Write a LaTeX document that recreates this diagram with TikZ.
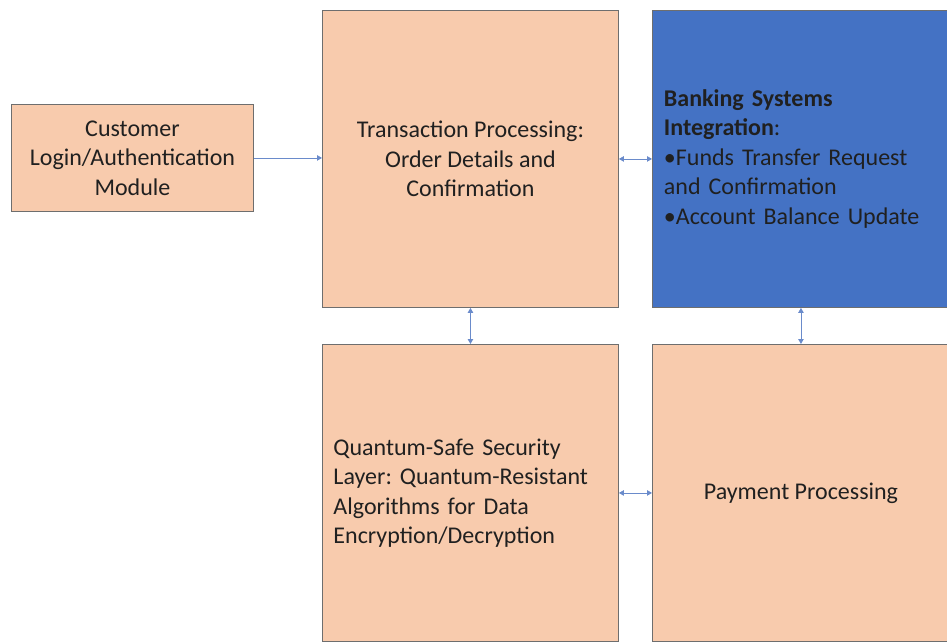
\documentclass[tikz,border=0pt]{standalone}
\usepackage{fontspec}
\setmainfont{Carlito}
\frenchspacing
\usetikzlibrary{arrows.meta}
\definecolor{peach}{HTML}{F8CBAD}
\definecolor{bluebox}{HTML}{4472C4}
\definecolor{edge}{HTML}{6E6E6E}
\definecolor{arrowc}{HTML}{6A8BCB}
\definecolor{txt}{HTML}{202020}
\begin{document}
\begin{tikzpicture}[x=1pt,y=1pt,
  box/.style={draw=edge, line width=0.9pt, fill=peach, anchor=north west,
    minimum width=296pt, minimum height=297pt, inner xsep=11pt, inner ysep=0pt,
    font=\fontsize{24}{29.5}\selectfont, text=txt},
  link/.style={draw=arrowc, line width=0.8pt},
  tipb/.style={-{Triangle[length=5pt,width=5.5pt]}},
  tipbb/.style={{Triangle[length=5pt,width=5.5pt]}-{Triangle[length=5pt,width=5.5pt]}}]
\useasboundingbox (0,0) rectangle (947,641);
\clip (0,0) rectangle (947,641);
\node[box, minimum width=242pt, minimum height=107pt, align=center, inner xsep=2pt] (cust) at (11,537)
  {Customer\\Login/Authentication\\Module};
\node[box, align=center] (trans) at (322,631)
  {Transaction Processing:\\Order Details and\\Confirmation};
\node[box, fill=bluebox, text width=274pt, align=left, minimum width=297pt] (bank) at (652,631)
  {\textbf{Banking Systems}\\\textbf{Integration}:\\•Funds Transfer Request\\and Confirmation\\•Account Balance Update};
\node[box, text width=274pt, align=left] (quant) at (322,297)
  {Quantum-Safe Security\\Layer: Quantum-Resistant\\Algorithms for Data\\Encryption/Decryption};
\node[box, align=center, minimum width=297pt] (pay) at (652,297) {Payment Processing};
\draw[link, tipb] (cust.east) -- (cust.east -| trans.west);
\draw[link, tipbb] (trans.east) -- (bank.west);
\draw[link, tipbb] (trans.south) -- (quant.north);
\draw[link, tipbb] (bank.south) -- (pay.north);
\draw[link, tipbb] (quant.east) -- (pay.west);
\end{tikzpicture}
\end{document}
